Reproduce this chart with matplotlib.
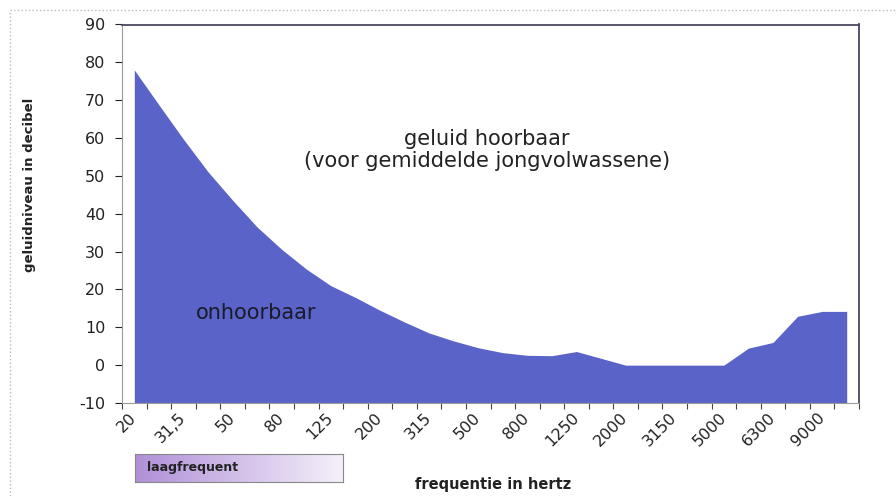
import matplotlib
matplotlib.use("Agg")
import matplotlib.pyplot as plt
from matplotlib.lines import Line2D
from matplotlib.colors import LinearSegmentedColormap
import numpy as np

plt.rcParams["axes.unicode_minus"] = False

# frequency categories (hz), every second one gets a label
freqs = ["20", "25", "31,5", "40", "50", "63", "80", "100", "125", "160",
         "200", "250", "315", "400", "500", "630", "800", "1000", "1250", "1600",
         "2000", "2500", "3150", "4000", "5000", "5600", "6300", "8000", "9000", "10000"]
# hearing threshold in dB
levels = [78, 68.8, 59.7, 51.1, 43.6, 36.5, 30.6, 25.4, 21.0, 17.9,
          14.5, 11.4, 8.5, 6.4, 4.6, 3.3, 2.6, 2.5, 3.6, 1.8,
          0, 0, 0, 0, 0, 4.5, 6.0, 12.9, 14.2, 14.2]
ybottom = -10

W, H = 896, 496
fig = plt.figure(figsize=(W / 100, H / 100), dpi=100)
ax = fig.add_axes([122 / W, 1 - 403 / H, 737 / W, 378.5 / H])

x = np.arange(len(freqs))
ax.fill_between(x, levels, ybottom, color="#5a63c8", linewidth=0)

ax.set_xlim(-0.5, len(freqs) - 0.5)
ax.set_ylim(-10, 90)
ax.set_yticks(range(-10, 91, 10))
ax.tick_params(axis="y", labelsize=11.5, length=5, width=0.8, pad=7, colors="#222222")

ax.set_xticks(x[::2])
ax.set_xticklabels(freqs[::2], rotation=45, ha="right", va="center", rotation_mode="anchor")
ax.set_xticks(np.arange(-0.5, len(freqs)), minor=True)
ax.tick_params(axis="x", which="major", length=0, labelsize=11.5, pad=9, colors="#222222")
ax.tick_params(axis="x", which="minor", length=4, width=0.8, color="#444444")

for s in ["top", "right"]:
    ax.spines[s].set_color("#4b4560")
    ax.spines[s].set_linewidth(1.3)
for s in ["left", "bottom"]:
    ax.spines[s].set_color("#9a9a9a")
    ax.spines[s].set_linewidth(0.8)

# labels inside the chart
fig.text(487 / W, 1 - 150 / H, "geluid hoorbaar\n(voor gemiddelde jongvolwassene)",
         ha="center", va="center", fontsize=15, color="#222222", linespacing=1.15)
fig.text(256 / W, 1 - 313 / H, "onhoorbaar", ha="center", va="center",
         fontsize=15, color="#1a1a2a")

fig.text(30 / W, 1 - 185 / H, "geluidniveau in decibel", rotation=90,
         ha="center", va="center", fontsize=9.5, fontweight="bold", color="#222222")
fig.text(493 / W, 1 - 485 / H, "frequentie in hertz", ha="center", va="center",
         fontsize=10.5, fontweight="bold", color="#222222")

# outer chart frame (only top and left visible)
fig.add_artist(Line2D([10 / W, 1], [1 - 10 / H, 1 - 10 / H], color="#bbbbbb", lw=1, linestyle=":"))
fig.add_artist(Line2D([10 / W, 10 / W], [0, 1 - 10 / H], color="#bbbbbb", lw=1, linestyle=":"))

# laagfrequent box with gradient
bx = fig.add_axes([135 / W, 1 - 482 / H, 208 / W, 28 / H])
cmap = LinearSegmentedColormap.from_list("lf", ["#b08fd8", "#f5f1fa"])
bx.imshow(np.linspace(0, 1, 256)[None, :], aspect="auto", cmap=cmap, extent=[0, 1, 0, 1])
bx.set_xticks([])
bx.set_yticks([])
for s in bx.spines.values():
    s.set_color("#888888")
    s.set_linewidth(0.8)
bx.text(0.06, 0.5, "laagfrequent", transform=bx.transAxes, ha="left", va="center",
        fontsize=9, fontweight="bold", color="#222222")

fig.savefig("out.png", dpi=100)
